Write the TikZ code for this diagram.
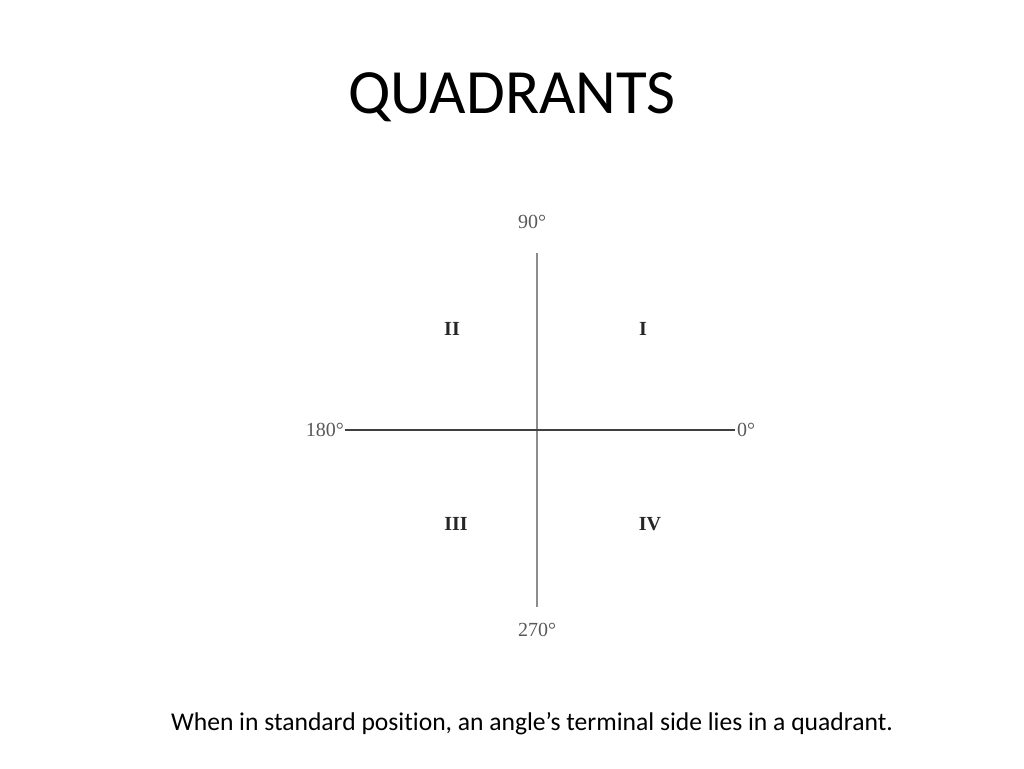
\documentclass[tikz,border=0pt]{standalone}
\usepackage{fontspec}
\setmainfont{Carlito}[Ligatures=NoCommon]
\newfontfamily\labelfont{Liberation Serif}
\usetikzlibrary{positioning}

\tikzset{
    deg/.style   = {font = \labelfont\fontsize{20}{22}\selectfont, text = black!65, inner sep = 1pt},
    quad/.style  = {font = \labelfont\bfseries\fontsize{20}{22}\selectfont, text = black!85, anchor = base},
    vaxis/.style = {black!45, line width = 2.6pt},
    haxis/.style = {black!75, line width = 1.6pt},
}

\begin{document}
\begin{tikzpicture}[x = 1pt, y = -1pt]

    \useasboundingbox (0,0) rectangle (1024,768);

    \def\Ox{537}
    \def\Oy{430}

    % title and caption
    \node[font = \fontsize{63}{70}\selectfont] (title) at (512,97) {QUADRANTS};
    \node[font = \fontsize{25.6}{30}\selectfont] (caption) at (532,724)
        {When in standard position, an angle’s terminal side lies in a quadrant.};

    % axis ends
    \coordinate (top)   at (\Ox,253);
    \coordinate (bot)   at (\Ox,607);
    \coordinate (left)  at (345,\Oy);
    \coordinate (right) at (735,\Oy);

    % angle labels
    \node[deg] (d90)  at (532,222) {90°};
    \node[deg] (d270) at (537,630) {270°};
    \node[deg, left = 0pt of left]   (d180) {180°};
    \node[deg, right = 1pt of right] (d0)   {0°};

    % quadrant numerals
    \node[quad] (qI)   at (643,335) {I};
    \node[quad] (qII)  at (452,335) {II};
    \node[quad] (qIII) at (456,530) {III};
    \node[quad] (qIV)  at (650,530) {IV};

    \draw[vaxis] (top) -- (bot);
    \draw[haxis] (left) -- (right);

\end{tikzpicture}
\end{document}
